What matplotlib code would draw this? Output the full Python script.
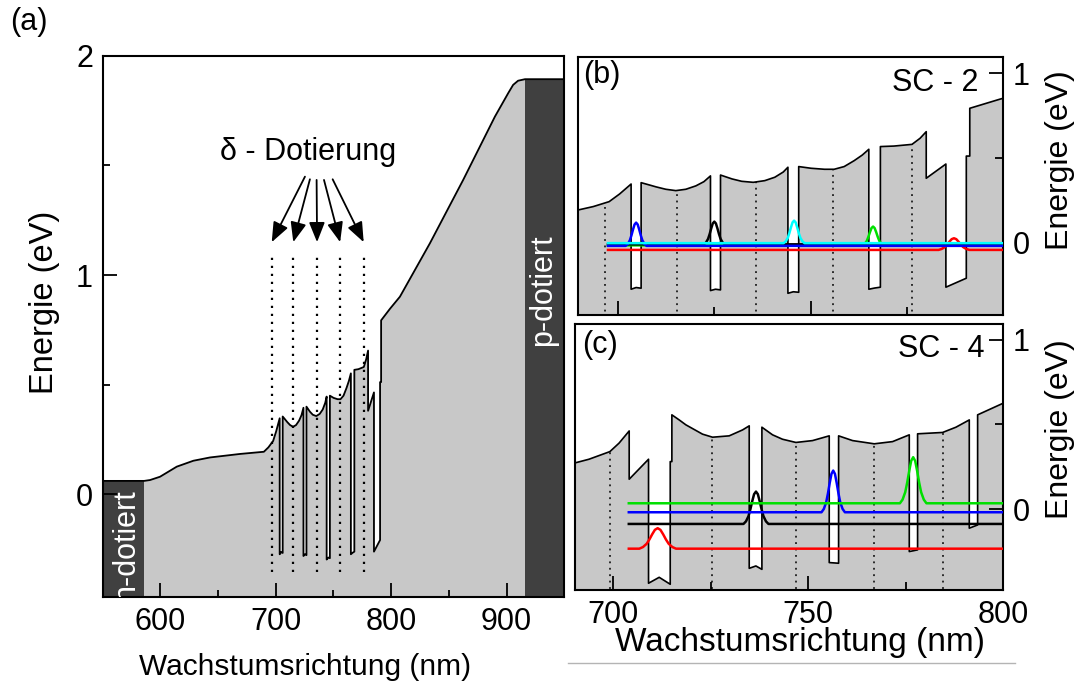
import numpy as np
import matplotlib
matplotlib.use("Agg")
import matplotlib.pyplot as plt
from matplotlib.patches import Polygon, Rectangle
from matplotlib.lines import Line2D

plt.rcParams['font.family'] = ['Liberation Sans', 'DejaVu Sans']

GRAY = '#c8c8c8'
DARK = '#404040'

# Conduction band edge of sample SC-2 over the whole structure (nm, eV)
sc2_nm = [550.0, 586.0, 591.1, 599.7, 614.2, 628.6, 643.0, 669.0, 689.7, 693.6,
          697.7, 700.4, 703.4, 703.4, 704.7, 706.0, 706.0, 708.2, 709.9, 712.4,
          715.0, 717.6, 720.2, 722.3, 724.0, 724.0, 725.3, 726.6, 726.6, 729.6,
          732.1, 735.1, 738.1, 740.7, 742.9, 744.1, 744.1, 745.5, 746.9, 746.9,
          750.1, 753.6, 756.1, 758.7, 761.3, 763.4, 765.1, 765.1, 766.6, 768.1,
          768.1, 771.6, 776.3, 778.4, 780.0, 780.0, 785.1, 785.1, 790.4, 790.4,
          791.3, 791.3, 799.0, 807.6, 833.6, 862.4, 889.9, 895.6, 901.4, 905.7,
          910.0, 916.0, 950.0]
sc2_E = [0.060, 0.060, 0.064, 0.079, 0.125, 0.152, 0.167, 0.183, 0.193, 0.213,
         0.242, 0.287, 0.346, -0.275, -0.265, -0.269, 0.354, 0.340, 0.329, 0.315,
         0.307, 0.315, 0.335, 0.360, 0.394, -0.283, -0.275, -0.279, 0.399, 0.376,
         0.362, 0.356, 0.366, 0.386, 0.417, 0.445, -0.299, -0.290, -0.293, 0.449,
         0.439, 0.433, 0.433, 0.449, 0.484, 0.517, 0.551, -0.275, -0.268, -0.263,
         0.567, 0.570, 0.580, 0.616, 0.655, 0.380, 0.464, -0.263, -0.210, 0.511,
         0.511, 0.793, 0.846, 0.901, 1.145, 1.434, 1.723, 1.776, 1.830, 1.868,
         1.887, 1.894, 1.894]

# Conduction band edge of sample SC-4 in the superlattice region (nm, eV)
sc4_nm = [690.0, 693.8, 699.15, 701.5, 704.1, 704.1, 709.06, 709.06, 711.79, 714.62,
          714.62, 715.04, 715.04, 716.92, 718.63, 722.9, 725.47, 729.74, 733.16, 734.87,
          734.87, 736.58, 738.12, 738.12, 740.85, 743.4, 746.84, 751.1, 755.38, 755.38,
          756.6, 757.78, 757.78, 761.37, 766.92, 771.62, 775.9, 775.9, 777.0, 778.03,
          778.03, 784.44, 787.86, 791.28, 791.28, 793.42, 793.42, 800.0]
sc4_E = [0.272, 0.295, 0.340, 0.390, 0.462, 0.177, 0.295, -0.437, -0.402, -0.443,
         0.281, 0.281, 0.557, 0.527, 0.498, 0.443, 0.425, 0.433, 0.468, 0.492,
         -0.349, -0.335, -0.355, 0.484, 0.439, 0.413, 0.394, 0.405, 0.433, -0.315,
         -0.317, -0.319, 0.433, 0.405, 0.386, 0.399, 0.439, -0.250, -0.245, -0.240,
         0.445, 0.453, 0.484, 0.527, -0.112, -0.093, 0.557, 0.626]

# delta-doping sheet positions (nm)
doping_sc2 = [696.5, 715.2, 735.8, 755.8, 776.2]
doping_sc4 = [699.2, 725.4, 746.8, 766.9, 784.6]

# electron states: energy level, peak position, peak height, half base width
sc2_colors = ['#ff0000', '#00e000', '#000000', '#0000ff', '#00ffff']
sc2_level = [-0.043, -0.016, -0.010, -0.019, -0.003]
sc2_center = [787.2, 766.2, 725.0, 704.7, 745.7]
sc2_height = [0.069, 0.111, 0.134, 0.137, 0.133]
sc2_width = [4.0, 2.7, 2.7, 2.7, 2.7]
sc2_start = 697.4

sc4_colors = ['#ff0000', '#000000', '#0000ff', '#00e000']
sc4_level = [-0.233, -0.087, -0.018, 0.035]
sc4_center = [711.4, 736.6, 756.4, 776.9]
sc4_height = [0.121, 0.191, 0.246, 0.272]
sc4_width = [4.7, 3.2, 3.0, 3.4]
sc4_start = 704.0

# bell-shaped probability density profile (offset in half widths, relative height)
bell_u = [-1.0, -0.8, -0.6, -0.45, -0.3, -0.15, 0.0, 0.15, 0.3, 0.45, 0.6, 0.8, 1.0]
bell_h = [0.0, 0.08, 0.24, 0.45, 0.70, 0.92, 1.0, 0.92, 0.70, 0.45, 0.24, 0.08, 0.0]

# arrow tails below the "delta - Dotierung" caption (nm, eV)
arrow_tail_x = [725.3, 729.6, 735.4, 741.8, 749.3]
arrow_tail_y = [1.449, 1.437, 1.434, 1.434, 1.437]


def state_curve(level, center, height, width, start, end=800.0):
    x = [start] + [center + width * u for u in bell_u] + [end]
    y = [level] + [level + height * h for h in bell_h] + [level]
    return x, y


def band_patch(ax, nm, E, bottom=-2.0):
    verts = list(zip(nm, E)) + [(nm[-1], bottom), (nm[0], bottom)]
    patch = Polygon(verts, closed=True, fc=GRAY, ec='none', zorder=1)
    ax.add_patch(patch)
    return patch


fig = plt.figure(figsize=(10.83, 6.97), dpi=100)
ax_a = fig.add_axes([0.0948, 0.1435, 0.4262, 0.7762])
ax_b = fig.add_axes([0.5340, 0.5481, 0.3924, 0.3697])
ax_c = fig.add_axes([0.5309, 0.1535, 0.3955, 0.3816])

FS = 22
for ax in (ax_a, ax_b, ax_c):
    for sp in ax.spines.values():
        sp.set_linewidth(1.5)

# ---------------- panel (a): full structure ----------------
band_patch(ax_a, sc2_nm, sc2_E)
ax_a.add_patch(Rectangle((550, -2), 36, 2.06, fc=DARK, ec='none', zorder=1.5))
ax_a.add_patch(Rectangle((916, -2), 34, 3.894, fc=DARK, ec='none', zorder=1.5))
ax_a.plot(sc2_nm, sc2_E, color='k', lw=1.3, zorder=3)
ax_a.vlines(doping_sc2, -0.355, 1.10, colors='k', linestyles=(0, (1, 2.6)), lw=1.6, zorder=4)

for xt, yt, xd in zip(arrow_tail_x, arrow_tail_y, doping_sc2):
    ax_a.annotate('', xy=(xd, 1.15), xytext=(xt, yt),
                  arrowprops=dict(arrowstyle='-|>,head_length=0.55,head_width=0.22',
                                  color='k', lw=1.3, mutation_scale=22,
                                  shrinkA=0, shrinkB=0))
ax_a.text(727.7, 1.56, 'δ - Dotierung', ha='center', va='center', fontsize=FS)
ax_a.text(570.6, -0.23, 'n-dotiert', color='white', rotation=90, ha='center',
          va='center', fontsize=FS, clip_on=True, zorder=5)
ax_a.text(932.0, 0.93, 'p-dotiert', color='white', rotation=90, ha='center',
          va='center', fontsize=FS, clip_on=True, zorder=5)

ax_a.set_xlim(550, 950)
ax_a.set_ylim(-0.47, 2.0)
ax_a.set_xticks([600, 700, 800, 900])
ax_a.set_xticks([650, 750, 850], minor=True)
ax_a.set_yticks([0, 1, 2])
ax_a.set_yticks([0.5, 1.5], minor=True)
ax_a.tick_params(which='both', direction='in', top=False, right=False, width=1.3,
                 labelsize=FS, pad=7)
ax_a.tick_params(which='major', length=10)
ax_a.tick_params(which='minor', length=5)
ax_a.set_xlabel('Wachstumsrichtung (nm)', fontsize=21.5, va='center')
ax_a.xaxis.set_label_coords(0.438, -0.129)
ax_a.set_ylabel('Energie (eV)', fontsize=23.5, va='center', ha='center')
ax_a.yaxis.set_label_coords(-0.125, 0.545)


# ---------------- panels (b) and (c): superlattice region ----------------
def zoom_panel(ax, nm, E, doping, colors, levels, centers, heights, widths, start,
               xlim, ylim, tag, name, xlabel):
    patch = band_patch(ax, nm, E)
    dots = ax.vlines(doping, -2, 3, colors='k', linestyles=(0, (1.2, 3.0)), lw=1.1, zorder=2)
    dots.set_clip_path(patch)
    ax.plot(nm, E, color='k', lw=1.2, zorder=3)
    for c, lv, ce, h, w in zip(colors, levels, centers, heights, widths):
        x, y = state_curve(lv, ce, h, w, start)
        ax.plot(x, y, color=c, lw=1.8, zorder=4)
    ax.set_xlim(*xlim)
    ax.set_ylim(*ylim)
    ax.set_xticks([700, 750, 800])
    ax.set_xticks([725, 775], minor=True)
    ax.set_yticks([0, 1])
    ax.set_yticks([0.5], minor=True)
    ax.yaxis.tick_right()
    ax.yaxis.set_label_position('right')
    ax.tick_params(which='both', direction='in', width=1.3, labelsize=FS, pad=7,
                   left=False, right=True, top=False, bottom=True)
    ax.tick_params(which='major', length=10)
    ax.tick_params(which='minor', length=6)
    ax.set_ylabel('Energie (eV)', fontsize=FS + 1, rotation=90, va='center', ha='center')
    ax.text(tag[0], tag[1], tag[2], transform=ax.transAxes, fontsize=FS,
            ha='left', va='center', zorder=6)
    ax.text(name[0], name[1], name[2], transform=ax.transAxes, fontsize=FS,
            ha='right', va='center', zorder=6)
    if xlabel:
        ax.set_xlabel('Wachstumsrichtung (nm)', fontsize=24, va='center')
    else:
        ax.tick_params(axis='x', labelbottom=False)


zoom_panel(ax_b, sc2_nm, sc2_E, doping_sc2, sc2_colors, sc2_level, sc2_center,
           sc2_height, sc2_width, sc2_start, (689.7, 799.0), (-0.427, 1.094),
           (0.011, 0.931, '(b)'), (0.941, 0.902, 'SC - 2'), False)
ax_b.yaxis.set_label_coords(1.1325, 0.601)

zoom_panel(ax_c, sc4_nm, sc4_E, doping_sc4, sc4_colors, sc4_level, sc4_center,
           sc4_height, sc4_width, sc4_start, (690.2, 800.0), (-0.477, 1.093),
           (0.016, 0.921, '(c)'), (0.957, 0.906, 'SC - 4'), True)
ax_c.xaxis.set_label_coords(0.525, -0.199)
ax_c.yaxis.set_label_coords(1.1314, 0.605)

fig.text(10 / 1083, 1 - 22 / 697, '(a)', fontsize=FS, ha='left', va='center')
fig.add_artist(Line2D([568 / 1083, 1015 / 1083], [1 - 663 / 697] * 2,
                      color='#b4b4b4', lw=1.0))

fig.savefig('out.png', dpi=100)
